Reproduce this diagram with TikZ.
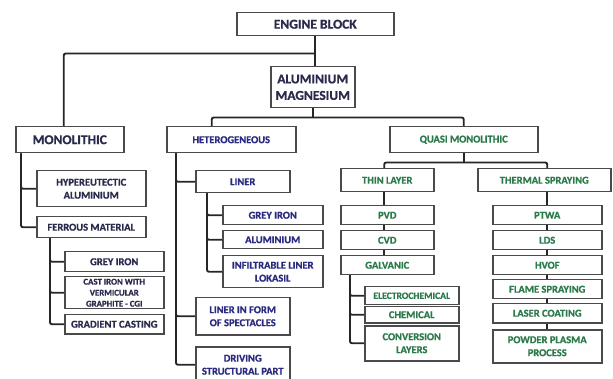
\documentclass[tikz,border=0pt]{standalone}
\usepackage{fontspec}
\setmainfont{Carlito}[BoldFeatures={FakeBold=0.9}]
\definecolor{navy}{HTML}{2A2A4C}
\definecolor{blu}{HTML}{2A2A80}
\definecolor{grn}{HTML}{2A7A4A}
\definecolor{edge}{HTML}{4A4A4A}
\tikzset{
  box/.style={draw=edge, line width=1.5pt, fill=white, anchor=north west, inner sep=1pt, align=center},
  big/.style={box, font=\bfseries\fontsize{13.5}{16.5}\selectfont, text=navy},
  nv/.style={box, font=\bfseries\fontsize{10.5}{13}\selectfont, text=navy},
  bl/.style={box, font=\bfseries\fontsize{10.5}{13}\selectfont, text=blu},
  gr/.style={box, font=\bfseries\fontsize{10.5}{13}\selectfont, text=grn},
  wire/.style={draw=black!85, line width=1.9pt, rounded corners=2pt},
}
\begin{document}
\begin{tikzpicture}[x=1pt,y=-1pt]
\useasboundingbox (0,0) rectangle (613,379);
% top level
\node[big, minimum width=157pt, minimum height=23pt] (eng) at (236,12) {ENGINE BLOCK};
\node[big, minimum width=84pt, minimum height=41pt] (alum) at (270,66) {ALUMINIUM\\MAGNESIUM};
\node[big, minimum width=108pt, minimum height=26pt] (mono) at (15,126) {MONOLITHIC};
\node[bl, minimum width=129pt, minimum height=26pt] (het) at (166,126) {HETEROGENEOUS};
\node[gr, minimum width=148pt, minimum height=26pt] (quasi) at (389,126) {QUASI MONOLITHIC};
% monolithic branch
\node[nv, minimum width=109pt, minimum height=36pt] (hyp) at (36,170) {HYPEREUTECTIC\\ALUMINIUM};
\node[nv, minimum width=109pt, minimum height=21pt] (fer) at (36,216) {FERROUS MATERIAL};
\node[nv, minimum width=99pt, minimum height=20pt] (gi1) at (64,251) {GREY IRON};
\node[nv, minimum width=99pt, minimum height=32pt, font=\bfseries\fontsize{8.8}{11}\selectfont] (cgi) at (64,276) {CAST IRON WITH\\VERMICULAR\\GRAPHITE - CGI};
\node[nv, minimum width=99pt, minimum height=19pt] (grad) at (64,314) {GRADIENT CASTING};
% heterogeneous branch
\node[bl, minimum width=94pt, minimum height=22pt] (lin) at (195,170) {LINER};
\node[bl, minimum width=100pt, minimum height=19pt] (gi2) at (222,205) {GREY IRON};
\node[bl, minimum width=100pt, minimum height=18pt] (al2) at (222,230) {ALUMINIUM};
\node[bl, minimum width=100pt, minimum height=32pt] (inf) at (222,255) {INFILTRABLE LINER\\LOKASIL};
\node[bl, minimum width=94pt, minimum height=37pt] (spec) at (195,297) {LINER IN FORM\\OF SPECTACLES};
\node[bl, minimum width=94pt, minimum height=36pt] (drv) at (195,346) {DRIVING\\STRUCTURAL PART};
% quasi branch
\node[gr, minimum width=93pt, minimum height=23pt] (thin) at (340,168) {THIN LAYER};
\node[gr, minimum width=133pt, minimum height=23pt] (therm) at (477,168) {THERMAL SPRAYING};
\node[gr, minimum width=93pt, minimum height=19pt] (pvd) at (340,205) {PVD};
\node[gr, minimum width=93pt, minimum height=19pt] (cvd) at (340,230) {CVD};
\node[gr, minimum width=93pt, minimum height=19pt] (gal) at (340,255) {GALVANIC};
\node[gr, minimum width=94pt, minimum height=18pt, font=\bfseries\fontsize{9.6}{12}\selectfont] (ec) at (364,286) {ELECTROCHEMICAL};
\node[gr, minimum width=94pt, minimum height=16pt] (ch) at (364,306) {CHEMICAL};
\node[gr, minimum width=94pt, minimum height=35pt] (conv) at (364,325) {CONVERSION\\LAYERS};
\node[gr, minimum width=109pt, minimum height=19pt] (ptwa) at (492,205) {PTWA};
\node[gr, minimum width=109pt, minimum height=19pt] (lds) at (492,230) {LDS};
\node[gr, minimum width=109pt, minimum height=19pt] (hvof) at (492,255) {HVOF};
\node[gr, minimum width=109pt, minimum height=19pt] (flame) at (492,279) {FLAME SPRAYING};
\node[gr, minimum width=109pt, minimum height=19pt] (laser) at (492,303) {LASER COATING};
\node[gr, minimum width=109pt, minimum height=33pt] (pow) at (492,329) {POWDER PLASMA\\PROCESS};
% connectors
\draw[wire] (eng.south) -- (eng.south |- alum.north);
\draw[wire] ([yshift=-17pt]eng.south) -| ([xshift=-6pt]mono.north);
\draw[wire] (alum.south) -- ([yshift=-9pt]alum.south);
\draw[wire] ([xshift=-19.5pt]het.north) |- ([yshift=-9pt]alum.south) -| (quasi.north);
\draw[wire] (quasi.south) -- ([yshift=-9pt]quasi.south);
\draw[wire] ([xshift=-3pt]thin.north) |- ([yshift=-9pt]quasi.south) -| ([xshift=3pt]therm.north);
% monolithic
\draw[wire] ([xshift=6pt]mono.south west) |- (hyp.west);
\draw[wire] ([xshift=6pt]mono.south west) |- (fer.west);
\draw[wire] ([xshift=14pt]fer.south west) |- (gi1.west);
\draw[wire] ([xshift=14pt]fer.south west) |- (cgi.west);
\draw[wire] ([xshift=14pt]fer.south west) |- (grad.west);
% heterogeneous
\draw[wire] ([xshift=10pt]het.south west) |- (lin.west);
\draw[wire] ([xshift=10pt]het.south west) |- (spec.west);
\draw[wire] ([xshift=10pt]het.south west) |- (drv.west);
\draw[wire] ([xshift=12pt]lin.south west) |- (gi2.west);
\draw[wire] ([xshift=12pt]lin.south west) |- (al2.west);
\draw[wire] ([xshift=12pt]lin.south west) |- (inf.west);
% thin layer
\draw[wire] ([xshift=-3pt]thin.south) -- ([xshift=-3pt]pvd.north);
\draw[wire] ([xshift=-3pt]pvd.south) -- ([xshift=-3pt]cvd.north);
\draw[wire] ([xshift=-3pt]cvd.south) -- ([xshift=-3pt]gal.north);
\draw[wire] ([xshift=10pt]gal.south west) |- (ec.west);
\draw[wire] ([xshift=10pt]gal.south west) |- (ch.west);
\draw[wire] ([xshift=10pt]gal.south west) |- (conv.west);
% thermal
\draw[wire] ([xshift=3pt]therm.south) -- (ptwa.north);
\draw[wire] (ptwa.south) -- (lds.north);
\draw[wire] (lds.south) -- (hvof.north);
\draw[wire] (hvof.south) -- (flame.north);
\draw[wire] (flame.south) -- (laser.north);
\draw[wire] (laser.south) -- (pow.north);
\end{tikzpicture}
\end{document}
